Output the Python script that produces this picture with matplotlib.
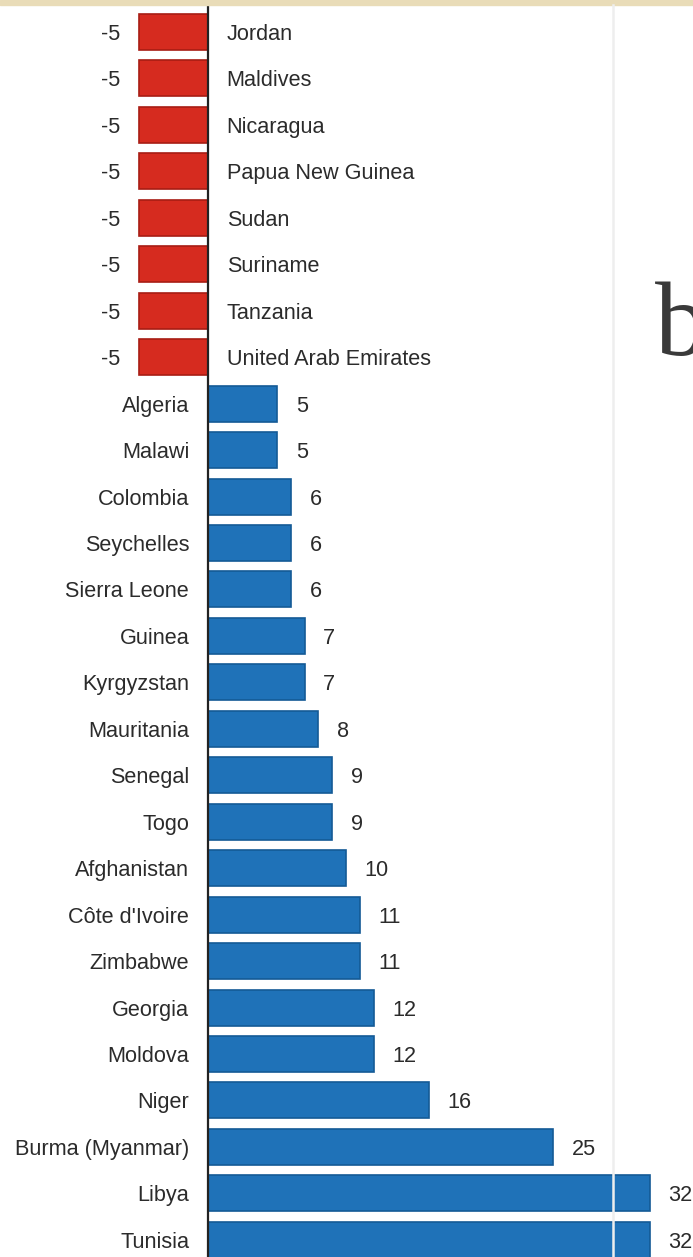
import matplotlib.pyplot as plt
from matplotlib.patches import Rectangle
from matplotlib.lines import Line2D

# data
countries = ["Jordan", "Maldives", "Nicaragua", "Papua New Guinea", "Sudan", "Suriname",
             "Tanzania", "United Arab Emirates", "Algeria", "Malawi", "Colombia", "Seychelles",
             "Sierra Leone", "Guinea", "Kyrgyzstan", "Mauritania", "Senegal", "Togo",
             "Afghanistan", "Côte d'Ivoire", "Zimbabwe", "Georgia", "Moldova", "Niger",
             "Burma (Myanmar)", "Libya", "Tunisia"]
values = [-5, -5, -5, -5, -5, -5, -5, -5, 5, 5, 6, 6, 6, 7, 7, 8, 9, 9, 10, 11, 11, 12, 12,
          16, 25, 32, 32]

plt.rcParams['font.family'] = ['Liberation Sans', 'DejaVu Sans']

fig = plt.figure(figsize=(6.93, 12.57), dpi=100)
ax = fig.add_axes([0, 0, 1, 1 - 5 / 1257])

pos = list(range(len(values)))
colors = ['#d62b1f' if v < 0 else '#1f72b8' for v in values]
edges = ['#a81d14' if v < 0 else '#145a96' for v in values]
ax.barh(pos, values, height=0.775, color=colors, edgecolor=edges, linewidth=1.2, zorder=2)

ax.set_xlim(-15.07, 35.14)
ax.set_ylim(26.37, -0.58)
ax.axis('off')
ax.axvline(0, color='#222222', lw=1.6, zorder=3)

txt = '#2b2b2b'
fs = 15.6
off = 13.5
for i, (c, v) in enumerate(zip(countries, values)):
    if v < 0:
        ax.annotate(str(v), (v, i), xytext=(-off, 0), textcoords='offset points',
                    ha='right', va='center_baseline', fontsize=fs, color=txt)
        ax.annotate(c, (0, i), xytext=(off, 0), textcoords='offset points',
                    ha='left', va='center_baseline', fontsize=fs, color=txt)
    else:
        ax.annotate(str(v), (v, i), xytext=(off, 0), textcoords='offset points',
                    ha='left', va='center_baseline', fontsize=fs, color=txt)
        ax.annotate(c, (0, i), xytext=(-off, 0), textcoords='offset points',
                    ha='right', va='center_baseline', fontsize=fs, color=txt)

# page decorations around the chart
fig.add_artist(Rectangle((0, 1 - 5 / 1257), 1, 5 / 1257, transform=fig.transFigure,
                         color='#e9dcb8', zorder=5))
fig.add_artist(Line2D([613 / 693, 613 / 693], [0, 1 - 5 / 1257], transform=fig.transFigure,
                      color='#eeeeee', lw=1.8, zorder=6))
fig.text(655 / 693, 1 - 355 / 1257, 'b', fontsize=76, family='Liberation Serif',
         color='#3a3a3a', ha='left', va='baseline')

fig.savefig('out.png', dpi=100)
